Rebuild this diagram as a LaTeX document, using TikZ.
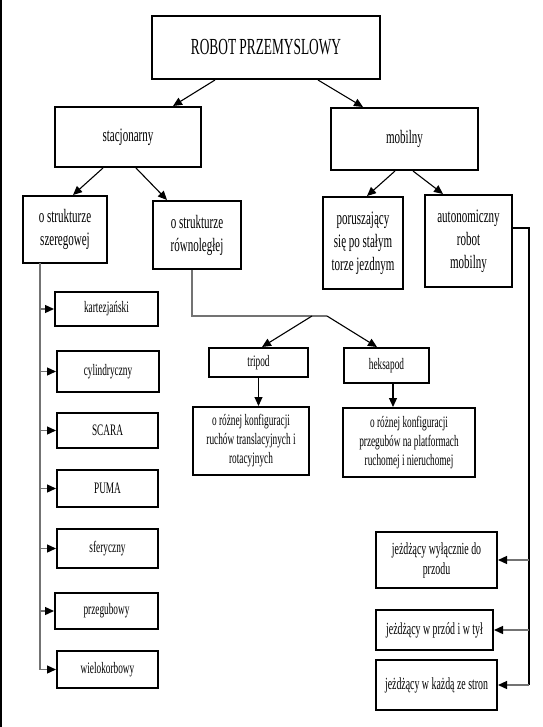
\documentclass[tikz,border=0pt]{standalone}
\usepackage{fontspec}
\setmainfont{Liberation Serif}[FakeStretch=0.58]
\usetikzlibrary{arrows.meta,calc}
\begin{document}
\begin{tikzpicture}[x=1pt,y=-1pt,
  box/.style={draw=black,line width=2pt,fill=white,align=center,inner sep=2pt},
  fA/.style={font=\fontsize{23}{26}\selectfont},
  fB/.style={font=\fontsize{19}{22}\selectfont},
  fC/.style={font=\fontsize{19}{23}\selectfont},
  fD/.style={font=\fontsize{16}{19}\selectfont},
  fE/.style={font=\fontsize{17}{20}\selectfont},
  arr/.style={draw=black,line width=1.1pt,-{Triangle[length=9pt,width=8pt]}},
  garr/.style={draw=black!55,line width=1.3pt,-{Triangle[length=9pt,width=8pt,color=black]}},
  gline/.style={draw=black!55,line width=1.3pt},
  bline/.style={draw=black,line width=1.1pt}]
\useasboundingbox (0,0) rectangle (542,727);
\fill[white] (0,0) rectangle (542,727);
\draw[line width=2pt] (1,0) -- (1,727);

% level 1 and 2
\node[box,fA,minimum width=228pt,minimum height=63pt] (top) at (266,47.5) {ROBOT PRZEMYSLOWY};
\node[box,fB,minimum width=146pt,minimum height=60pt] (stac) at (128,137) {stacjonarny};
\node[box,fB,minimum width=147pt,minimum height=62pt] (mob) at (404.5,139) {mobilny};

% level 3
\node[box,fC,minimum width=84pt,minimum height=67pt] (szer) at (65,229.5) {o strukturze\\szeregowej};
\node[box,fC,minimum width=88pt,minimum height=68pt] (row) at (197,235) {o strukturze\\równoległej};
\node[box,fC,minimum width=80pt,minimum height=92pt] (por) at (363,243) {poruszający\\się po stałym\\torze jezdnym};
\node[box,fC,minimum width=87pt,minimum height=92pt] (auto) at (468.5,241) {autonomiczny\\robot\\mobilny};

% parallel branch
\node[box,fD,minimum width=99pt,minimum height=29pt] (trip) at (258.5,362.5) {tripod};
\node[box,fD,minimum width=85pt,minimum height=35pt] (heks) at (386.5,365.5) {heksapod};
\node[box,fD,minimum width=116pt,minimum height=68pt] (tdesc) at (251,441) {o różnej konfiguracji\\ruchów translacyjnych i\\rotacyjnych};
\node[box,fD,minimum width=132pt,minimum height=69pt] (hdesc) at (409,442.5) {o różnej konfiguracji\\przegubów na platformach\\ruchomej i nieruchomej};

% serial list
\node[box,fD,minimum width=103pt,minimum height=34pt] (kart) at (106.5,309) {kartezjański};
\node[box,fD,minimum width=102pt,minimum height=41pt] (cyl) at (108,371.5) {cylindryczny};
\node[box,fD,minimum width=101pt,minimum height=35pt] (scara) at (107.5,430.5) {SCARA};
\node[box,fD,minimum width=101pt,minimum height=37pt] (puma) at (107.5,488.5) {PUMA};
\node[box,fD,minimum width=101pt,minimum height=39pt] (sfer) at (107.5,548.5) {sferyczny};
\node[box,fD,minimum width=103pt,minimum height=36pt] (przeg) at (106.5,611) {przegubowy};
\node[box,fD,minimum width=101pt,minimum height=37pt] (wiel) at (107.5,669.5) {wielokorbowy};

% mobile list
\node[box,fE,minimum width=121pt,minimum height=56pt] (przod) at (436.5,560) {jeżdżący wyłącznie do\\przodu};
\node[box,fE,minimum width=117pt,minimum height=40pt] (tyl) at (434.5,630) {jeżdżący w przód i w tył};
\node[box,fE,minimum width=121pt,minimum height=50pt] (kazda) at (436.5,685) {jeżdżący w każdą ze stron};

% connectors top levels
\draw[arr] ([xshift=-51pt]top.south) -- ([xshift=45pt]stac.north);
\draw[arr] ([xshift=52pt]top.south) -- ([xshift=-41.5pt]mob.north);
\draw[arr] ([xshift=-25pt]stac.south) -- ([xshift=8pt]szer.north);
\draw[arr] ([xshift=8pt]stac.south) -- ([xshift=-30pt]row.north);
\draw[arr] ([xshift=-9.5pt]mob.south) -- ([xshift=4pt]por.north);
\draw[arr] ([xshift=8.5pt]mob.south) -- ([xshift=-25.5pt]auto.north);

% parallel branch connectors
\coordinate (j1) at (312,316);
\coordinate (j2) at (327,316);
\draw[gline] ([xshift=-5pt]row.south) |- (j2);
\draw[arr] (j1) -- ([xshift=3.5pt]trip.north);
\draw[arr] (j2) -- ([xshift=-9.5pt]heks.north);
\draw[arr] (trip.south) -- (trip.south |- tdesc.north);
\draw[arr] ([xshift=6.5pt]heks.south) -- ([xshift=6.5pt]heks.south |- hdesc.north);

% serial spine
\coordinate (sp) at (40,263);
\draw[gline] (sp) -- (sp |- wiel.west);
\foreach \n in {kart,cyl,scara,puma,sfer,przeg,wiel}
  \draw[garr] (sp |- \n.west) -- (\n.west);

% mobile spine
\coordinate (rs) at (529,228);
\draw[bline] (auto.east |- rs) -- (rs) -- (rs |- kazda.east);
\foreach \n in {przod,tyl,kazda}
  \draw[garr] (rs |- \n.east) -- (\n.east);
\end{tikzpicture}
\end{document}
